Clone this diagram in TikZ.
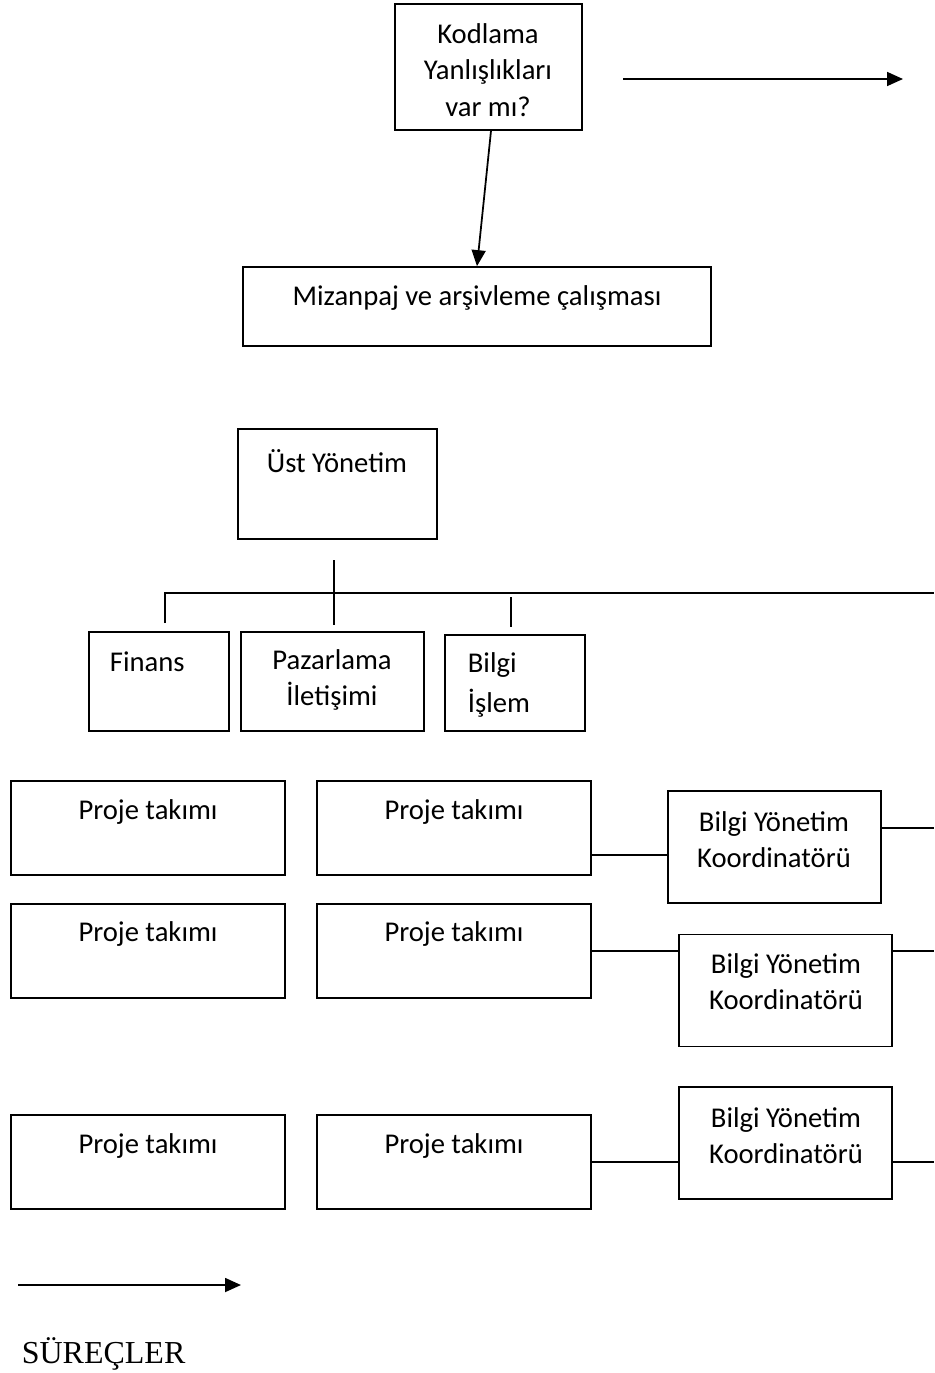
\documentclass[tikz,border=0pt]{standalone}
\usepackage{fontspec}
\setmainfont{Carlito}
\newfontfamily\timesfont{Liberation Serif}
\usetikzlibrary{arrows.meta}

\begin{document}
\begin{tikzpicture}[x=0.02cm,y=-0.02cm,line width=1pt,font=\fontsize{16.3pt}{20.6pt}\selectfont]

      \useasboundingbox (0,0) rectangle (934,1373);

      \begin{scope}[every node/.style={rectangle,draw,inner sep=0pt}]
        \node[minimum width=3.74cm,minimum height=2.52cm] (kod) at (488.5,67) {};
        \node[minimum width=9.36cm,minimum height=1.58cm] (miz) at (477,306.5) {};
        \node[minimum width=3.98cm,minimum height=2.2cm] (ust) at (337.5,484) {};
        \node[minimum width=2.8cm,minimum height=1.98cm] (fin) at (159,681.5) {};
        \node[minimum width=3.66cm,minimum height=1.98cm] (paz) at (332.5,681.5) {};
        \node[minimum width=2.8cm,minimum height=1.92cm] (bil) at (515,683) {};
      \end{scope}

      \begin{scope}[every node/.style={rectangle,draw,inner sep=0pt,minimum width=5.48cm,minimum height=1.88cm}]
        \node (p11) at (148,828) {};
        \node (p12) at (454,828) {};
        \node (p21) at (148,951) {};
        \node (p22) at (454,951) {};
        \node (p31) at (148,1162) {};
        \node (p32) at (454,1162) {};
      \end{scope}

      \begin{scope}[every node/.style={rectangle,draw,inner sep=0pt,minimum width=4.26cm,minimum height=2.24cm}]
        \node (k1) at (774.5,847) {};
        \node (k2) at (785.5,990.5) {};
        \node (k3) at (785.5,1143) {};
      \end{scope}

      \begin{scope}[every node/.style={inner sep=0pt,align=center}]
        \node (kod-t) at (488,70) {Kodlama\\Yanlışlıkları\\var mı?};
        \node (miz-t) at (477,298) {Mizanpaj ve arşivleme çalışması};
        \node (ust-t) at (337,461) {Üst Yönetim};
        \node[anchor=west] (fin-t) at (109,662) {Finans};
        \node (paz-t) at (332,680) {Pazarlama\\İletişimi};
        \node[anchor=west,align=left] (bil-t) at (467,685) {Bilgi\\[2.3pt]İşlem};
        \node (p11-t) at (148,812) {Proje takımı};
        \node (p12-t) at (454,812) {Proje takımı};
        \node (p21-t) at (148,934) {Proje takımı};
        \node (p22-t) at (454,934) {Proje takımı};
        \node (p31-t) at (148,1146) {Proje takımı};
        \node (p32-t) at (454,1146) {Proje takımı};
        \node (k1-t) at (774,840) {Bilgi Yönetim\\Koordinatörü};
        \node (k2-t) at (786,982) {Bilgi Yönetim\\Koordinatörü};
        \node (k3-t) at (786,1136) {Bilgi Yönetim\\Koordinatörü};
        \node[anchor=base west,font=\timesfont\fontsize{18.2pt}{22pt}\selectfont] (sur) at (21,1363) {SÜREÇLER};
      \end{scope}

      \coordinate (a1) at (623,79);
      \coordinate (a2) at (903,79);
      \coordinate (a3) at (18,1285);
      \coordinate (a4) at (241,1285);
      \coordinate (t1) at (334,560);
      \coordinate (t2) at (334,593);
      \coordinate (b1) at (165,593);
      \coordinate (b2) at (934,593);
      \coordinate (d1) at (165,623);
      \coordinate (d2) at (334,625);
      \coordinate (d3a) at (511,597);
      \coordinate (d3) at (511,627);
      \coordinate (e1) at (934,828);
      \coordinate (e2) at (934,951);
      \coordinate (e3) at (934,1162);

      \begin{scope}[every edge/.style={draw,-{Triangle[length=0.32cm,width=0.28cm]}}]
        \path (a1) edge (a2);
        \path ([xshift=0.05cm]kod.south) edge (miz.north);
        \path (a3) edge (a4);
      \end{scope}

      \begin{scope}[every edge/.style={draw}]
        \draw (d1) -- (b1) -- (b2);
        \path (t1) edge (t2);
        \path (t2) edge (d2);
        \path (d3a) edge (d3);
        \path ([yshift=-0.54cm]p12.east) edge ([yshift=-0.54cm]p12.east -| k1.west);
        \path (k1.east |- p12.east) edge (e1);
        \path (p22.east) edge (p22.east -| k2.west);
        \path (k2.east |- p22.east) edge (e2);
        \path (p32.east) edge (p32.east -| k3.west);
        \path (k3.east |- p32.east) edge (e3);
      \end{scope}

    \end{tikzpicture}
\end{document}
